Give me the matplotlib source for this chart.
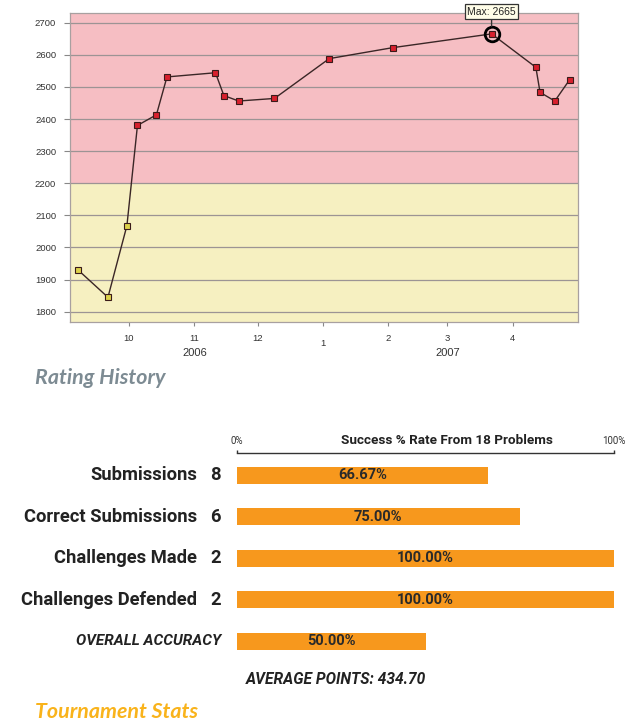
import matplotlib
matplotlib.use("Agg")
import matplotlib.pyplot as plt
import matplotlib.dates as mdates
import matplotlib.transforms as mtransforms
from datetime import date

# ---------------- data ----------------
rating_dates = [date(2006, 9, 7), date(2006, 9, 21), date(2006, 9, 30), date(2006, 10, 5),
                date(2006, 10, 14), date(2006, 10, 19), date(2006, 11, 11), date(2006, 11, 15),
                date(2006, 11, 22), date(2006, 12, 9), date(2007, 1, 4), date(2007, 2, 3),
                date(2007, 3, 22), date(2007, 4, 12), date(2007, 4, 14), date(2007, 4, 21),
                date(2007, 4, 28)]
rating_values = [1929, 1845, 2068, 2380, 2413, 2531, 2544, 2473, 2456, 2464,
                 2588, 2622, 2665, 2561, 2483, 2456, 2522]
y_ticks = [1800, 1900, 2000, 2100, 2200, 2300, 2400, 2500, 2600, 2700]
month_ticks = [date(2006, 10, 1), date(2006, 11, 1), date(2006, 12, 1), date(2007, 1, 1),
               date(2007, 2, 1), date(2007, 3, 1), date(2007, 4, 1)]
month_labels = ["10", "11", "12", "1", "2", "3", "4"]
year_label_dates = [date(2006, 11, 1), date(2007, 3, 1)]
year_labels = ["2006", "2007"]
red_threshold = 2200

stat_names = ["Submissions", "Correct Submissions", "Challenges Made", "Challenges Defended"]
stat_counts = [8, 6, 2, 2]
stat_pcts = [66.67, 75.00, 100.00, 100.00]
overall_accuracy = 50.00
average_points = 434.70
problems_total = 18

# ---------------- figure ----------------
W, H = 643, 721
fig = plt.figure(figsize=(W / 100, H / 100), dpi=100)
fig.patch.set_facecolor("white")

def fx(px):
    return px / W

def fy(py):
    return 1 - py / H

sans = ["Liberation Sans", "DejaVu Sans"]
narrow = ["Roboto", "DejaVu Sans"]
title_font = ["Lato", "Open Sans", "DejaVu Sans"]

# ---------------- rating history ----------------
ax = fig.add_axes([fx(70), fy(321.7), fx(578) - fx(70), fy(13) - fy(321.7)])
ylo, yhi = 1769, 2730
ax.set_ylim(ylo, yhi)
ax.set_xlim(mdates.date2num(date(2006, 9, 3)), mdates.date2num(date(2007, 5, 2)))
ax.axhspan(red_threshold, yhi, color="#f6bec3", zorder=0, lw=0)
ax.axhspan(ylo, red_threshold, color="#f6f0c1", zorder=0, lw=0)
for yv in y_ticks:
    ax.axhline(yv, color="#9c9494", lw=0.9, zorder=1)

xs = mdates.date2num(rating_dates)
ax.plot(xs, rating_values, color="#3a2626", lw=1.0, zorder=3)
for x, v in zip(xs, rating_values):
    fc = "#d8202e" if v >= red_threshold else "#dcd24a"
    ax.plot([x], [v], marker="s", ms=4.6, mfc=fc, mec="#3a1a1a", mew=0.8, zorder=4)

# max annotation
imax = rating_values.index(max(rating_values))
ax.plot([xs[imax]], [rating_values[imax]], marker="o", ms=10.5, mfc="none",
        mec="black", mew=2.0, zorder=5, clip_on=False)
ax.annotate(f"Max: {max(rating_values)}", xy=(xs[imax], rating_values[imax]),
            xytext=(0, 16), textcoords="offset points", ha="center", va="center",
            fontsize=7.5, family=sans, color="#222222", zorder=6,
            bbox=dict(boxstyle="square,pad=0.25", fc="#fffde8", ec="#333333", lw=0.9),
            arrowprops=dict(arrowstyle="-", color="#333333", lw=1.0, shrinkA=0, shrinkB=5.5),
            annotation_clip=False)

for s in ax.spines.values():
    s.set_color("#a8a0a0")
    s.set_linewidth(0.9)
ax.set_yticks(y_ticks)
ax.set_yticklabels([str(v) for v in y_ticks], fontsize=6.8, family=sans, color="#333333")
ax.tick_params(axis="y", length=4, color="#888888", pad=6)
ax.set_xticks(mdates.date2num(month_ticks))
ax.set_xticklabels([""] * len(month_ticks))
ax.tick_params(axis="x", length=3, color="#888888", pad=0)
ax.set_xticks([mdates.date2num(date(2007, 1, 1))], minor=True)
ax.tick_params(axis="x", which="minor", length=6, color="#888888")

trans = mtransforms.blended_transform_factory(ax.transData, ax.transAxes)
ph = fy(13) - fy(321.7)
for d, lab in zip(month_ticks, month_labels):
    ypix = 343.3 if lab == "1" else 338.3
    yax = (fy(ypix) - fy(321.7)) / ph
    ax.text(mdates.date2num(d), yax, lab, transform=trans, ha="center", va="center",
            fontsize=6.8, family=sans, color="#333333")
for d, lab in zip(year_label_dates, year_labels):
    yax = (fy(353.3) - fy(321.7)) / ph
    ax.text(mdates.date2num(d), yax, lab, transform=trans, ha="center", va="center",
            fontsize=8, family=sans, color="#333333")

fig.text(fx(35), fy(378.5), "Rating History", ha="left", va="center", fontsize=15.4,
         fontweight="bold", fontstyle="italic", family=title_font, color="#7d8b93")

# ---------------- tournament stats ----------------
bx = fig.add_axes([fx(237), fy(662), fx(614) - fx(237), fy(453) - fy(662)])
bx.set_xlim(0, 100)
bx.set_ylim(4.5, -0.537)
for k in ["left", "right", "bottom"]:
    bx.spines[k].set_visible(False)
bx.spines["top"].set_color("#333333")
bx.spines["top"].set_linewidth(1.0)
bx.set_yticks([])
bx.xaxis.tick_top()
bx.set_xticks([0, 100])
bx.set_xticklabels([])
bx.tick_params(axis="x", length=2.5, color="#333333", width=1.0)
bx.patch.set_alpha(0)

bar_color = "#f7981d"
all_pcts = stat_pcts + [overall_accuracy]
ypos = list(range(len(all_pcts)))
bx.barh(ypos, all_pcts, height=0.41, color=bar_color, lw=0)
for yi, p in zip(ypos, all_pcts):
    bx.text(p / 2, yi, f"{p:.2f}%", ha="center", va="center", fontsize=10.5,
            fontweight="bold", family=narrow, color="#2a2a2a")

px2x = 100 / (614 - 237)
for yi, (name, cnt) in enumerate(zip(stat_names, stat_counts)):
    bx.text((197 - 237) * px2x, yi, name, ha="right", va="center", fontsize=13.2,
            fontweight="bold", family=narrow, color="#222222")
    bx.text((221 - 237) * px2x, yi, str(cnt), ha="right", va="center", fontsize=13.2,
            fontweight="bold", family=narrow, color="#222222")
bx.text((221 - 237) * px2x, len(stat_names), "OVERALL ACCURACY", ha="right", va="center",
        fontsize=11, fontweight="bold", fontstyle="italic", family=narrow, color="#222222")

yhdr = (440.7 - 475.3) / 41.5
bx.text(0, yhdr, "0%", ha="center", va="center", fontsize=7, family=narrow, color="#333333")
bx.text(100, yhdr, "100%", ha="center", va="center", fontsize=7, family=narrow, color="#333333")
bx.text((447 - 237) * px2x, yhdr, f"Success % Rate From {problems_total} Problems",
        ha="center", va="center", fontsize=9.7, fontweight="bold", family=narrow,
        color="#222222")

bx.text((336 - 237) * px2x, (680 - 475.3) / 41.5, f"AVERAGE POINTS: {average_points:.2f}",
        ha="center", va="center", fontsize=11.2, fontweight="bold", fontstyle="italic",
        family=narrow, color="#222222", clip_on=False)

fig.text(fx(35), fy(711.5), "Tournament Stats", ha="left", va="center", fontsize=15.4,
         fontweight="bold", fontstyle="italic", family=title_font, color="#f9b31b")

fig.savefig("out.png", dpi=100)
